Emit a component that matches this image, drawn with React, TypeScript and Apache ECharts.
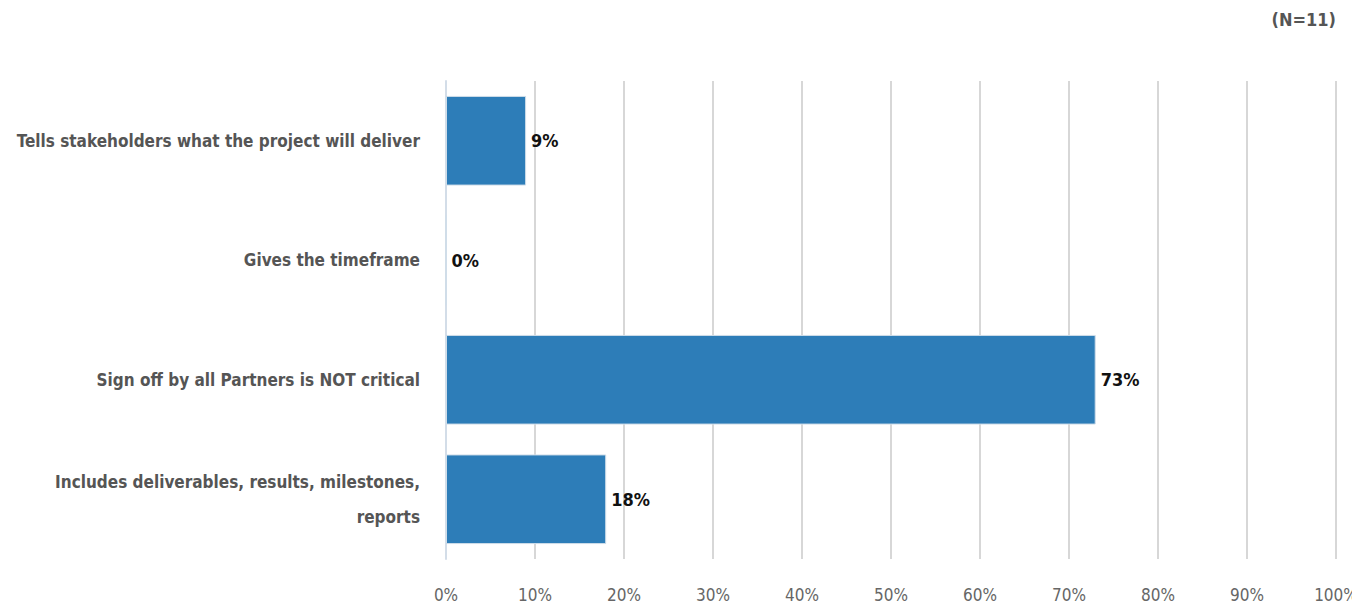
import React, { useEffect, useRef } from "react";
import * as echarts from "echarts";

const categories = [
  "Tells stakeholders what the project will deliver",
  "Gives the timeframe",
  "Sign off by all Partners is NOT critical",
  "Includes deliverables, results, milestones,\nreports",
];
const values = [9, 0, 73, 18];
const sampleNote = "(N=11)";

const FONT = "'DejaVu Sans Condensed', 'Liberation Sans Narrow', sans-serif";

export default function App() {
  const ref = useRef<HTMLDivElement>(null);
  useEffect(() => {
    if (!ref.current) return;
    const chart = echarts.init(ref.current, undefined, { renderer: "svg" });
    chart.setOption({
      animation: false,
      graphic: [
        {
          type: "text",
          right: 24,
          top: 2,
          style: {
            text: sampleNote,
            font: "bold 18px " + FONT,
            fill: "#555",
          },
        },
      ],
      grid: { left: 438, right: 24, top: 73, bottom: 52, containLabel: false, outerBoundsMode: "none" },
      xAxis: {
        type: "value",
        min: 0,
        max: 100,
        interval: 10,
        axisLine: { show: false },
        axisTick: { show: false },
        splitLine: { lineStyle: { color: "#cacaca", width: 1.5 } },
        axisLabel: {
          formatter: "{value}%",
          margin: 27,
          color: "#666",
          fontSize: 17,
          fontFamily: FONT,
        },
      },
      yAxis: {
        type: "category",
        data: categories,
        inverse: true,
        axisLine: { lineStyle: { color: "#d3dde8", width: 2 } },
        axisTick: { alignWithLabel: true, length: 16, lineStyle: { color: "#d3dde8", width: 2 } },
        axisLabel: {
          margin: 26,
          color: "#555",
          fontSize: 17,
          fontWeight: "bold",
          lineHeight: 35,
          align: "right",
          fontFamily: FONT,
        },
      },
      series: [
        {
          type: "bar",
          data: values,
          barCategoryGap: "25%",
          itemStyle: { color: "#2d7db8", borderColor: "#cfdde9", borderWidth: 1 },
          label: {
            show: true,
            position: "right",
            distance: 5,
            formatter: "{c}%",
            color: "#111",
            fontSize: 18,
            fontWeight: "bold",
            fontFamily: FONT,
          },
        },
      ],
    });
    return () => chart.dispose();
  }, []);
  return <div ref={ref} style={{ width: 1352, height: 603, marginBottom: -8 }} />;
}
